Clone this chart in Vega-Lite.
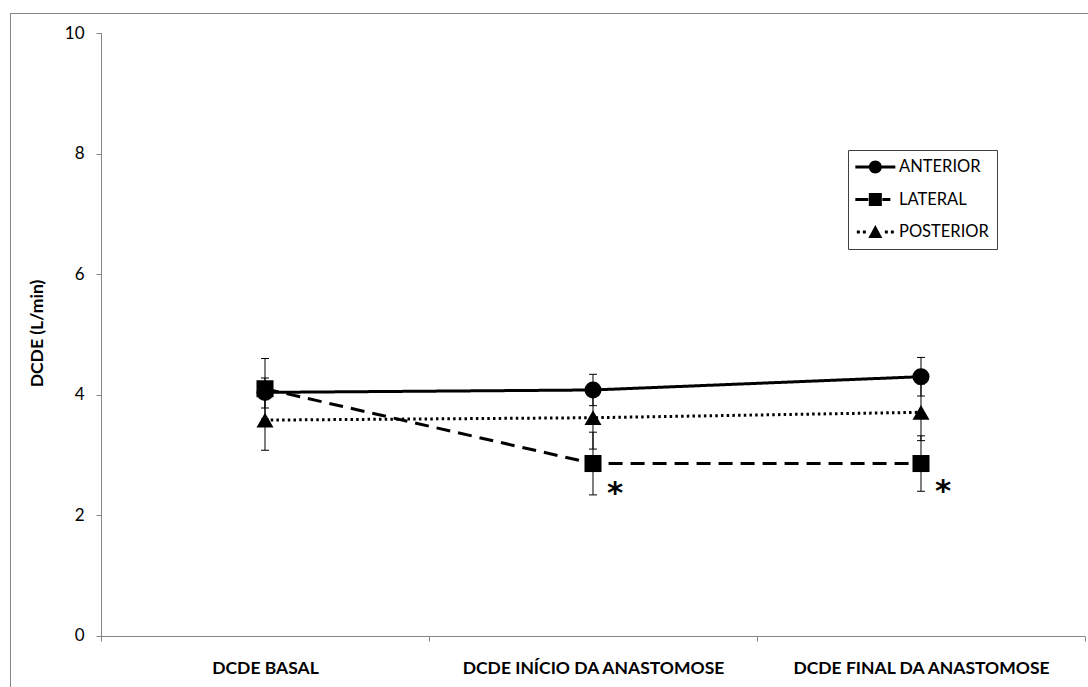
{
  "$schema": "https://vega.github.io/schema/vega-lite/v6.json",
  "width": 1078,
  "height": 674,
  "autosize": "none",
  "padding": {"left": 10, "top": 13, "right": 0, "bottom": 0},
  "background": "white",
  "config": {
    "view": {"stroke": null},
    "font": "Lato",
    "legend": {
      "title": null,
      "orient": "none",
      "legendX": 838,
      "legendY": 137,
      "padding": 8,
      "strokeColor": "#404040",
      "fillColor": "white",
      "symbolSize": 300,
      "symbolStrokeWidth": 0,
      "symbolFillColor": "black",
      "symbolOpacity": 1,
      "labelFont": "Lato",
      "labelFontSize": 16.5,
      "labelColor": "black",
      "labelOffset": 25,
      "rowPadding": 14.5
    }
  },
  "resolve": {"scale": {"shape": "independent"}},
  "datasets": {
    "medidas": [
      {"momento": "DCDE BASAL", "idx": 0, "serie": "ANTERIOR", "dcde": 4.04, "inf": 3.78, "sup": 4.28},
      {"momento": "DCDE INÍCIO DA ANASTOMOSE", "idx": 1, "serie": "ANTERIOR", "dcde": 4.08, "inf": 3.82, "sup": 4.34},
      {"momento": "DCDE FINAL DA ANASTOMOSE", "idx": 2, "serie": "ANTERIOR", "dcde": 4.30, "inf": 3.98, "sup": 4.62},
      {"momento": "DCDE BASAL", "idx": 0, "serie": "LATERAL", "dcde": 4.10, "inf": 3.60, "sup": 4.60},
      {"momento": "DCDE INÍCIO DA ANASTOMOSE", "idx": 1, "serie": "LATERAL", "dcde": 2.86, "inf": 2.34, "sup": 3.38},
      {"momento": "DCDE FINAL DA ANASTOMOSE", "idx": 2, "serie": "LATERAL", "dcde": 2.86, "inf": 2.40, "sup": 3.32},
      {"momento": "DCDE BASAL", "idx": 0, "serie": "POSTERIOR", "dcde": 3.58, "inf": 3.08, "sup": 4.08},
      {"momento": "DCDE INÍCIO DA ANASTOMOSE", "idx": 1, "serie": "POSTERIOR", "dcde": 3.62, "inf": 3.10, "sup": 4.14},
      {"momento": "DCDE FINAL DA ANASTOMOSE", "idx": 2, "serie": "POSTERIOR", "dcde": 3.71, "inf": 3.24, "sup": 4.18}
    ],
    "significancia": [
      {"idx": 1, "dcde": 2.44, "marca": "*"},
      {"idx": 2, "dcde": 2.47, "marca": "*"}
    ],
    "eixo_y": [{"idx": -0.5, "dcde": 0, "dcde2": 10}],
    "eixo_x": [{"idx": -0.5, "idx2": 2.5, "dcde": 0}],
    "borda": [{"idx": -0.77744, "idx2": 2.50915, "dcde": -0.8458, "dcde2": 10.3317}]
  },
  "encoding": {
    "x": {
      "field": "idx",
      "type": "quantitative",
      "scale": {"domain": [-0.77744, 2.50915], "nice": false, "zero": false},
      "axis": {
        "values": [-0.5, 0, 0.5, 1, 1.5, 2, 2.5],
        "offset": -51,
        "domain": false,
        "grid": false,
        "tickColor": "#868686",
        "tickSize": 5,
        "tickOpacity": {"condition": {"test": "datum.value % 1 !== 0", "value": 1}, "value": 0},
        "labelExpr": "datum.value === 0 ? 'DCDE BASAL' : datum.value === 1 ? 'DCDE INÍCIO DA ANASTOMOSE' : datum.value === 2 ? 'DCDE FINAL DA ANASTOMOSE' : ''",
        "labelFont": "Lato",
        "labelFontWeight": "bold",
        "labelFontSize": 17.5,
        "labelColor": "black",
        "labelPadding": 18,
        "labelLimit": 0,
        "labelOverlap": false,
        "labelFlush": false,
        "labelBound": false,
        "title": null
      }
    },
    "y": {
      "field": "dcde",
      "type": "quantitative",
      "scale": {"domain": [-0.8458, 10.3317], "nice": false, "zero": false},
      "axis": {
        "values": [0, 2, 4, 6, 8, 10],
        "offset": -91,
        "domain": false,
        "grid": false,
        "tickColor": "#868686",
        "tickSize": 5,
        "labelFont": "Lato",
        "labelFontSize": 17,
        "labelColor": "black",
        "labelPadding": 12,
        "title": "DCDE (L/min)",
        "titleFont": "Lato",
        "titleFontSize": 17.5,
        "titleFontWeight": "bold",
        "titleColor": "black",
        "titleY": 320,
        "titlePadding": 18
      }
    }
  },
  "layer": [
    {
      "data": {"name": "borda"},
      "mark": {"type": "rule", "color": "#868686", "strokeWidth": 1, "xOffset": 0.5},
      "encoding": {"y2": {"field": "dcde2"}}
    },
    {
      "data": {"name": "borda"},
      "mark": {"type": "rule", "color": "#868686", "strokeWidth": 1, "yOffset": 0.5},
      "encoding": {"x2": {"field": "idx2"}, "y": {"field": "dcde2", "type": "quantitative"}}
    },
    {
      "data": {"name": "eixo_y"},
      "mark": {"type": "rule", "color": "#868686", "strokeWidth": 1, "xOffset": 0.5},
      "encoding": {"y2": {"field": "dcde2"}}
    },
    {
      "data": {"name": "eixo_x"},
      "mark": {"type": "rule", "color": "#868686", "strokeWidth": 1, "yOffset": 0.5},
      "encoding": {"x2": {"field": "idx2"}}
    },
    {
      "data": {"name": "medidas"},
      "mark": {"type": "rule", "color": "black", "strokeWidth": 1},
      "encoding": {"y": {"field": "inf", "type": "quantitative"}, "y2": {"field": "sup"}}
    },
    {
      "data": {"name": "medidas"},
      "mark": {"type": "tick", "orient": "horizontal", "color": "black", "thickness": 1, "size": 8, "opacity": 1},
      "encoding": {"y": {"field": "inf", "type": "quantitative"}}
    },
    {
      "data": {"name": "medidas"},
      "mark": {"type": "tick", "orient": "horizontal", "color": "black", "thickness": 1, "size": 8, "opacity": 1},
      "encoding": {"y": {"field": "sup", "type": "quantitative"}}
    },
    {
      "data": {"name": "medidas"},
      "mark": {"type": "line", "color": "black", "strokeWidth": 3},
      "encoding": {
        "detail": {"field": "serie"},
        "strokeDash": {
          "field": "serie",
          "type": "nominal",
          "scale": {"domain": ["ANTERIOR", "LATERAL", "POSTERIOR"], "range": [[1, 0], [14, 8], [2.5, 3.2]]},
          "legend": null
        }
      }
    },
    {
      "data": {"name": "medidas"},
      "mark": {"type": "point", "filled": true, "color": "black", "opacity": 1, "size": 290},
      "encoding": {
        "shape": {
          "field": "serie",
          "type": "nominal",
          "scale": {"domain": ["ANTERIOR", "LATERAL", "POSTERIOR"], "range": ["circle", "square", "triangle-up"]},
          "legend": null
        }
      }
    },
    {
      "data": {"name": "medidas"},
      "mark": {"type": "point", "filled": true, "color": "black", "size": 300},
      "encoding": {
        "fillOpacity": {"value": 0},
        "shape": {
          "field": "serie",
          "type": "nominal",
          "scale": {
            "domain": ["ANTERIOR", "LATERAL", "POSTERIOR"],
            "range": [
              "M-1.116,-0.173H0.501V0.173H-1.116Z M1.887,-0.173H3.503V0.173H1.887Z M1.945,0A0.751,0.751,0,1,1,0.443,0A0.751,0.751,0,1,1,1.945,0Z",
              "M-1.116,-0.173H0.385V0.173H-1.116Z M0.443,-0.751H1.945V0.751H0.443Z M2.002,-0.173H2.926V0.173H2.002Z",
              "M-0.942,-0.173H-0.596V0.173H-0.942Z M-0.249,-0.173H0.097V0.173H-0.249Z M2.291,-0.173H2.637V0.173H2.291Z M2.984,-0.173H3.33V0.173H2.984Z M1.194,-0.808L2.002,0.693L0.385,0.693Z"
            ]
          }
        }
      }
    },
    {
      "data": {"name": "significancia"},
      "mark": {"type": "text", "color": "black", "font": "DejaVu Sans", "fontSize": 31, "fontWeight": "bold", "dx": 22, "dy": 5, "baseline": "middle", "align": "center"},
      "encoding": {"text": {"field": "marca"}}
    }
  ]
}
